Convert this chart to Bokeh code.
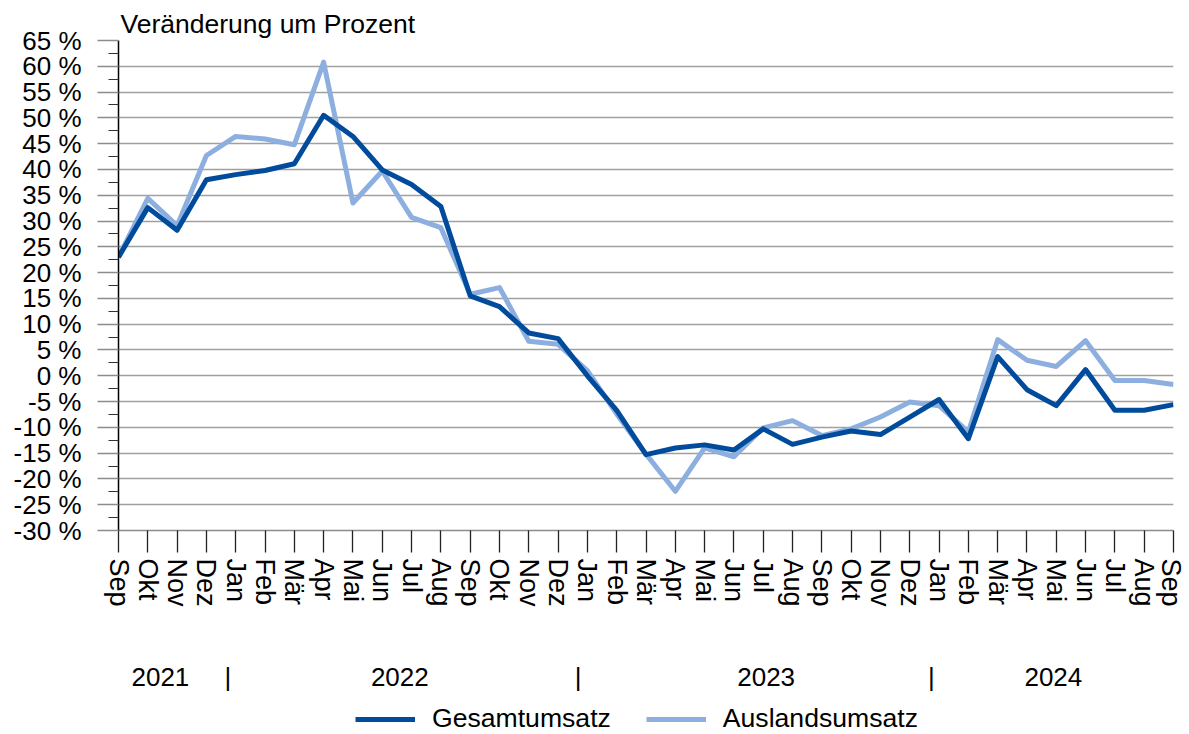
from bokeh.plotting import figure
from bokeh.layouts import column
from bokeh.models import Range1d, FixedTicker, LinearAxis, Legend, LegendItem
from bokeh.embed import file_html
from bokeh.resources import INLINE

months = ["Sep", "Okt", "Nov", "Dez",
          "Jan", "Feb", "Mär", "Apr", "Mai", "Jun", "Jul", "Aug", "Sep", "Okt", "Nov", "Dez",
          "Jan", "Feb", "Mär", "Apr", "Mai", "Jun", "Jul", "Aug", "Sep", "Okt", "Nov", "Dez",
          "Jan", "Feb", "Mär", "Apr", "Mai", "Jun", "Jul", "Aug", "Sep"]

gesamtumsatz = [23.0, 32.6, 28.2, 38.0, 39.0, 39.8, 41.1, 50.5, 46.4, 39.9, 37.1, 32.8,
                15.5, 13.4, 8.3, 7.2, 0.0, -6.7, -15.3, -14.0, -13.4, -14.4, -10.3, -13.3,
                -11.9, -10.7, -11.4, -8.0, -4.6, -12.2, 3.7, -2.7, -5.8, 1.2, -6.7, -6.7,
                -5.6]
auslandsumsatz = [23.0, 34.4, 29.1, 42.7, 46.4, 45.9, 44.8, 60.8, 33.5, 39.7, 30.7, 28.7,
                  15.8, 17.1, 6.7, 6.1, 1.0, -7.4, -15.2, -22.4, -14.0, -15.7, -10.1, -8.7,
                  -11.6, -10.3, -8.0, -5.1, -5.8, -10.9, 7.0, 3.0, 1.8, 6.8, -0.9, -0.9,
                  -1.7]
series_names = ["Gesamtumsatz", "Auslandsumsatz"]

years = ["2021", "2022", "2023", "2024"]
year_pos = [1.43, 9.6, 22.1, 31.9]
separator_pos = [3.73, 15.68, 27.74]

y_ticks = list(range(-30, 70, 5))
y_tick_labels = [f"{t} %" for t in y_ticks]

FONT = "Liberation Sans"
FS = "26px"
DARK = "#004B9B"
LIGHT = "#8DAFDF"
GRID = "#A0A0A0"
LW = 5

x = list(range(len(months)))

p = figure(width=1185, height=704, output_backend="svg", toolbar_location=None,
           x_range=Range1d(0, len(months) - 1), y_range=Range1d(-30, 65),
           min_border_left=118, min_border_right=12, min_border_top=40,
           min_border_bottom=174)
p.outline_line_color = None
p.background_fill_color = "white"
p.border_fill_color = "white"

r1 = p.line(x, gesamtumsatz, line_color=DARK, line_width=LW, line_join="round")
r2 = p.line(x, auslandsumsatz, line_color=LIGHT, line_width=LW, line_join="round")
p.renderers = [r2, r1]

# title
p.title.text = "Veränderung um Prozent"
p.title.text_font = FONT
p.title.text_font_size = "26.5px"
p.title.text_font_style = "normal"
p.title.text_color = "black"
p.title.align = "left"
p.title.offset = 2
p.title.standoff = 3

# y axis
p.yaxis.ticker = FixedTicker(ticks=y_ticks,
                             minor_ticks=[t + 2.5 for t in y_ticks[:-1]])
p.yaxis.major_label_overrides = {t: l for t, l in zip(y_ticks, y_tick_labels)}
p.yaxis.major_label_text_font = FONT
p.yaxis.major_label_text_font_size = FS
p.yaxis.major_label_text_color = "black"
p.yaxis.major_label_standoff = 16
p.yaxis.major_tick_out = 21
p.yaxis.major_tick_in = 0
p.yaxis.major_tick_line_color = "#8C8C8C"
p.yaxis.major_tick_line_width = 1.5
p.yaxis.minor_tick_out = 10
p.yaxis.minor_tick_in = 0
p.yaxis.minor_tick_line_color = "#333333"
p.yaxis.minor_tick_line_width = 1.2
p.yaxis.axis_line_color = "black"
p.yaxis.axis_line_width = 1.5

p.ygrid.ticker = FixedTicker(ticks=y_ticks)
p.ygrid.grid_line_color = GRID
p.ygrid.grid_line_width = 1.5
p.xgrid.grid_line_color = None

# x axis (months)
p.xaxis.ticker = FixedTicker(ticks=x)
p.xaxis.major_label_overrides = {i: m for i, m in enumerate(months)}
p.xaxis.major_label_orientation = "vertical"
p.xaxis.major_label_text_font = FONT
p.xaxis.major_label_text_font_size = "27px"
p.xaxis.major_label_text_color = "black"
p.xaxis.major_label_standoff = 6
p.xaxis.major_tick_out = 22
p.xaxis.major_tick_in = 0
p.xaxis.major_tick_line_color = "#222222"
p.xaxis.major_tick_line_width = 1.3
p.xaxis.minor_tick_line_color = None
p.xaxis.axis_line_color = "#8C8C8C"
p.xaxis.axis_line_width = 1.5

# second axis (years and separators)
year_ticks = year_pos + separator_pos
year_labels = years + ["|"] * len(separator_pos)
yax = LinearAxis(ticker=FixedTicker(ticks=year_ticks, minor_ticks=[]),
                 major_label_overrides={t: l for t, l in zip(year_ticks, year_labels)},
                 axis_line_color=None, major_tick_line_color=None,
                 minor_tick_line_color=None, major_tick_out=0, major_tick_in=0,
                 major_label_standoff=52, major_label_text_font=FONT,
                 major_label_text_font_size=FS, major_label_text_color="black")
p.add_layout(yax, "below")

# legend figure
lf = figure(width=1185, height=30, output_backend="svg", toolbar_location=None,
            x_range=Range1d(0, 1), y_range=Range1d(0, 1),
            min_border_left=0, min_border_right=0, min_border_top=0, min_border_bottom=0,
            x_axis_type=None, y_axis_type=None)
lf.outline_line_color = None
lf.grid.grid_line_color = None
l1 = lf.line([-10, -9], [-10, -10], line_color=DARK, line_width=LW)
l2 = lf.line([-10, -9], [-10, -10], line_color=LIGHT, line_width=LW)
legend = Legend(items=[LegendItem(label=series_names[0], renderers=[l1]),
                       LegendItem(label=series_names[1], renderers=[l2])],
                orientation="horizontal", location=(237, 0))
legend.label_text_font = FONT
legend.label_text_font_size = "26.6px"
legend.label_text_color = "black"
legend.glyph_width = 60
legend.glyph_height = 28
legend.label_standoff = 17
legend.spacing = 35
legend.padding = 0
legend.margin = 0
legend.border_line_color = None
legend.background_fill_alpha = 0
lf.add_layout(legend, "center")

open("out.html", "w").write(file_html(column(p, lf, spacing=0), INLINE))
